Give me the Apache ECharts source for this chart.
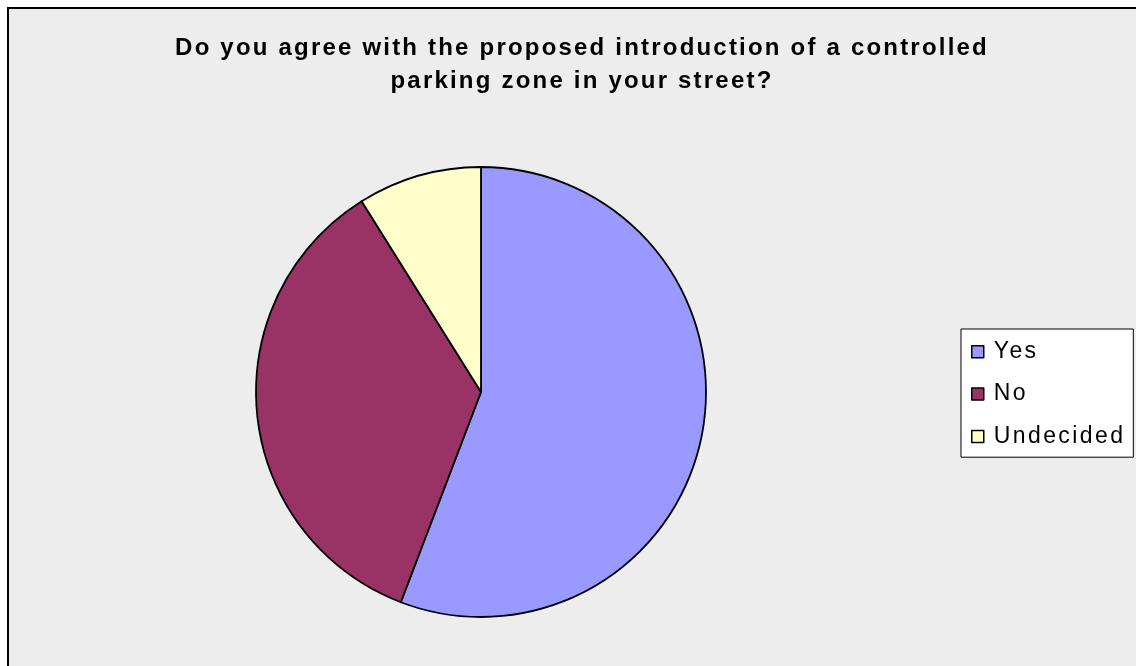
<!DOCTYPE html>
<html>
<head>
<meta charset="utf-8">
<script src="https://cdn.jsdelivr.net/npm/echarts@6/dist/echarts.min.js"></script>
<style>html,body{margin:0;padding:0;background:#fff;}#c{width:1136px;height:666px;}</style>
</head>
<body>
<div id="c"></div>
<script>
const titleLines = ["Do you agree with the proposed introduction of a controlled", "parking zone in your street?"];
const categories = ["Yes", "No", "Undecided"];
const values = [55.8, 35.3, 8.9];
const colors = ["#9999FF", "#993366", "#FFFFCC"];

// wide letter spacing as in the reference rendering
(function () {
  const P = CanvasRenderingContext2D.prototype;
  function sp(ctx) {
    const f = ctx.font || '';
    let s = '0px';
    if (/(bold|700)/.test(f) && /24px/.test(f)) s = '2.2px';
    else if (/23px/.test(f)) s = '2.4px';
    if ('letterSpacing' in ctx) ctx.letterSpacing = s;
  }
  const ft = P.fillText, mt = P.measureText;
  P.fillText = function () { sp(this); return ft.apply(this, arguments); };
  P.measureText = function () { sp(this); return mt.apply(this, arguments); };
})();

const chart = echarts.init(document.getElementById('c'));
chart.setOption({
  backgroundColor: '#ffffff',
  animation: false,
  graphic: [{
    type: 'rect', z: -10, silent: true,
    shape: { x: 8, y: 8, width: 1200, height: 700 },
    style: { fill: '#EDEDED', stroke: '#000', lineWidth: 2 }
  }],
  title: {
    text: titleLines.join('\n'),
    left: 577, top: 27, textAlign: 'center',
    textStyle: { fontFamily: 'Liberation Sans', fontWeight: 'bold', fontSize: 24, color: '#000', lineHeight: 33 }
  },
  legend: {
    orient: 'vertical', left: 961, top: 329,
    data: categories,
    icon: 'rect', itemWidth: 12, itemHeight: 12, itemGap: 17,
    padding: [10, 8, 8, 10],
    backgroundColor: '#fff', borderColor: '#000', borderWidth: 1, borderRadius: 0,
    textStyle: { fontFamily: 'Liberation Sans', fontSize: 23, color: '#000', lineHeight: 24, padding: [0, 0, 0, 5] },
    itemStyle: { borderColor: '#000', borderWidth: 1.5 }
  },
  series: [{
    type: 'pie',
    center: [481, 392], radius: 225,
    startAngle: 90, clockwise: true,
    label: { show: false }, labelLine: { show: false },
    itemStyle: { borderColor: '#000', borderWidth: 1.8 },
    emphasis: { disabled: true },
    data: categories.map((c, i) => ({ name: c, value: values[i], itemStyle: { color: colors[i] } }))
  }]
});
</script>
</body>
</html>
